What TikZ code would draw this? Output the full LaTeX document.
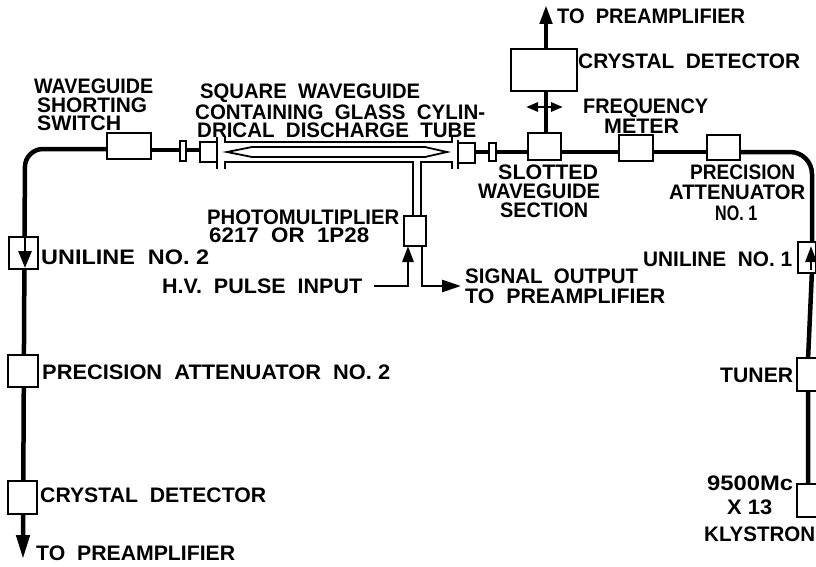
\documentclass[tikz,border=0pt]{standalone}
\usepackage{graphicx}
\usepackage{fontspec}
\setmainfont{Liberation Sans}
\usetikzlibrary{arrows.meta}
\newlength{\fitlen}
\newcommand{\fitw}[2]{\settowidth{\fitlen}{#2}\pgfmathsetmacro{\fitr}{#1/(\fitlen/1pt)}\scalebox{\fitr}[1]{#2}}
\tikzset{
  wave/.style={line width=4.5pt},
  thin wave/.style={line width=2.8pt},
  comp/.style={draw,line width=2pt,fill=white,inner sep=0pt,minimum width=#1},
  lbl/.style={inner sep=0pt,anchor=west,font=\fontsize{21}{21}\bfseries\selectfont},
  tip/.style={-{Triangle[length=16pt,width=11pt]}},
}
\begin{document}
\begin{tikzpicture}[x=1pt,y=-1pt]
\useasboundingbox (0,0) rectangle (816,567);
\fill[white] (0,0) rectangle (816,567);
\coordinate (botleft) at (23,559);
\coordinate (topend) at (546,5);
% waveguide runs
\draw[wave,rounded corners=18pt] (23,540) -- (25,149) -- (110,149);
\draw[wave,rounded corners=22pt] (740,152) -- (812,152) -- (812,245);
\draw[wave] (812,270) -- (808,360) -- (808,490);
\draw[wave] (150,150) -- (200,150);
\draw[wave] (475,152) -- (707,152);
% components on the top run
\node[comp=44pt,minimum height=25pt] (switch) at (129,146) {};
\node[comp=6pt,minimum height=20pt] (s1) at (183,151) {};
\node[comp=17pt,minimum height=20pt] (f1) at (208.5,152) {};
\draw[thin wave] (217,137) -- (217,169);
\node[comp=17pt,minimum height=20pt] (f2) at (466.5,153) {};
\draw[thin wave] (458,140) -- (458,169);
\node[comp=7pt,minimum height=18pt] (s2) at (492,152) {};
% square guide
\draw[thin wave] (225,137) -- (225,142) -- (452,142) -- (452,137);
\draw[thin wave] (225,169) -- (225,162) -- (413,162) -- (413,216);
\draw[thin wave] (452,169) -- (452,162) -- (421,162) -- (421,216);
\draw[line width=1.8pt] (227,152) -- (252,147) -- (425,147) -- (447,152) -- (425,157) -- (252,157) -- cycle;
% photomultiplier
\node[comp=22pt,minimum height=30pt] (pm) at (415,231) {};
\coordinate (hv) at (374,286);
\coordinate (hvtop) at (408,246);
\draw[thin wave,tip] (hv) -- (408,286) -- (hvtop);
\coordinate (sig) at (461,286);
\coordinate (sigtop) at (422,246);
\draw[thin wave,-{Triangle[length=19pt,width=12pt]}] (sigtop) -- (422,286) -- (sig);
% right upper
\node[comp=33pt,minimum height=27pt] (slot) at (544.5,146.5) {};
\node[comp=34pt,minimum height=26pt] (freq) at (636,148) {};
\node[comp=33pt,minimum height=25pt] (prec1) at (723.5,147.5) {};
\node[comp=66pt,minimum height=42pt] (cd) at (544,70) {};
\draw[wave] (546,133) -- (546,91);
\coordinate (cdtop) at (546,49);
\draw[wave,-{Triangle[length=19pt,width=12pt]}] (cdtop) -- (topend);
\coordinate (da) at (526,107);
\coordinate (db) at (563,107);
\draw[thin wave,{Triangle[length=12pt,width=9pt]}-{Triangle[length=12pt,width=9pt]}] (da) -- (db);
% right column
\node[comp=18pt,minimum height=31pt] (un1) at (807,257.5) {};
\coordinate (un1a) at (811,270);
\coordinate (un1b) at (811,246);
\draw[thin wave,tip] (un1a) -- (un1b);
\node[comp=20pt,minimum height=33pt] (tun) at (807,374.5) {};
\node[comp=20pt,minimum height=33pt] (kly) at (807,500.5) {};
% left column
\node[comp=29pt,minimum height=32pt] (un2) at (23.5,253) {};
\coordinate (un2a) at (25,238);
\coordinate (un2b) at (25,268);
\draw[thin wave,-{Triangle[length=17pt,width=13pt]}] (un2a) -- (un2b);
\node[comp=30pt,minimum height=32pt] (pa2) at (23,371) {};
\node[comp=29pt,minimum height=33pt] (cd2) at (22.5,497.5) {};
\coordinate (cd2b) at (23,514);
\draw[wave,-{Triangle[length=24pt,width=13pt]}] (cd2b) -- (botleft);
% labels
\node[lbl] (t1) at (557,16) {\fitw{188}{TO \ PREAMPLIFIER}};
\node[lbl] (t2) at (578,61) {\fitw{222}{CRYSTAL \ DETECTOR}};
\node[lbl] (t3a) at (583,108) {\fitw{125}{FREQUENCY}};
\node[lbl] (t3b) at (604,126) {\fitw{75}{METER}};
\node[lbl] (t4a) at (690,172) {\fitw{105}{PRECISION}};
\node[lbl] (t4b) at (669,192) {\fitw{136}{ATTENUATOR}};
\node[lbl] (t4c) at (715,213) {\fitw{42}{NO. 1}};
\node[lbl] (t5a) at (498,172) {\fitw{100}{SLOTTED}};
\node[lbl] (t5b) at (478,191) {\fitw{122}{WAVEGUIDE}};
\node[lbl] (t5c) at (500,210) {\fitw{88}{SECTION}};
\node[lbl] (t6) at (643,259) {\fitw{149}{UNILINE \ NO. 1}};
\node[lbl] (t7a) at (34,86) {\fitw{119}{WAVEGUIDE}};
\node[lbl] (t7b) at (37,105) {\fitw{110}{SHORTING}};
\node[lbl] (t7c) at (37,123) {\fitw{84}{SWITCH}};
\node[lbl] (t8) at (200,93) {\fitw{220}{SQUARE \ WAVEGUIDE}};
\node[lbl] (t9) at (195,112) {\fitw{290}{CONTAINING \ GLASS \ CYLIN-}};
\node[lbl] (t10) at (197,130) {\fitw{279}{DRICAL \ DISCHARGE \ TUBE}};
\node[lbl] (t11) at (207,217) {\fitw{192}{PHOTOMULTIPLIER}};
\node[lbl] (t12) at (209,235) {\fitw{160}{6217 \ OR \ 1P28}};
\node[lbl] (t13) at (41,257) {\fitw{168}{UNILINE \ NO. 2}};
\node[lbl] (t14) at (162,286) {\fitw{200}{H.V. \ PULSE \ INPUT}};
\node[lbl] (t15) at (465,276) {\fitw{173}{SIGNAL \ OUTPUT}};
\node[lbl] (t16) at (465,296) {\fitw{200}{TO \ PREAMPLIFIER}};
\node[lbl] (t17) at (42,372) {\fitw{348}{PRECISION \ ATTENUATOR \ NO. 2}};
\node[lbl] (t18) at (40,495) {\fitw{226}{CRYSTAL \ DETECTOR}};
\node[lbl] (t19) at (36,553) {\fitw{199}{TO \ PREAMPLIFIER}};
\node[lbl] (t20) at (720,375) {\fitw{73}{TUNER}};
\node[lbl] (t21) at (707,483) {\fitw{86}{9500Mc}};
\node[lbl] (t22) at (727,507) {\fitw{45}{X 13}};
\node[lbl] (t23) at (704,534) {\fitw{111}{KLYSTRON}};
\end{tikzpicture}
\end{document}
